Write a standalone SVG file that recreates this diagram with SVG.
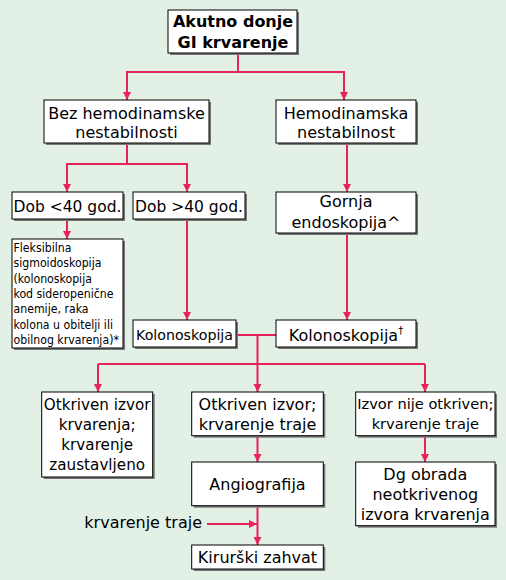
<svg xmlns="http://www.w3.org/2000/svg" width="506" height="580" viewBox="0 0 506 580">
<style>
.bg{fill:#e3f0e5}
.sh{fill:#777}
.bx{fill:#fff;stroke:#000;stroke-width:1}
text{font-family:"DejaVu Sans",Verdana,sans-serif;font-size:16px;fill:#000}
.c{text-anchor:middle}
.b{font-weight:bold}
text.s11{font-family:"DejaVu Sans Condensed","DejaVu Sans",sans-serif;font-size:12.2px}
text.s15{font-size:15.2px}
text.s145{font-size:14.6px}
.ln{fill:none;stroke:#e8235a;stroke-width:2}
</style>
<defs>
<marker id="ah" viewBox="0 0 10 10" refX="10" refY="5" markerWidth="8" markerHeight="9" markerUnits="userSpaceOnUse" orient="auto">
<path d="M0,0 L10,5 L0,10 z" fill="#e8235a"/>
</marker>
</defs>
<rect class="bg" x="0" y="0" width="506" height="580"/>
<g id="connectors">
<path class="ln" d="M238,53 V72 H127 V100" marker-end="url(#ah)"/>
<path class="ln" d="M238,72 H344 V100" marker-end="url(#ah)"/>
<path class="ln" d="M127,143 V164 H67 V192" marker-end="url(#ah)"/>
<path class="ln" d="M127,164 H187 V192" marker-end="url(#ah)"/>
<path class="ln" d="M347,143 V192" marker-end="url(#ah)"/>
<path class="ln" d="M67,219 V239" marker-end="url(#ah)"/>
<path class="ln" d="M187,219 V320" marker-end="url(#ah)"/>
<path class="ln" d="M347,233 V320" marker-end="url(#ah)"/>
<path class="ln" d="M236,335 H276 M257.5,335 V364 M98,364 H425"/>
<path class="ln" d="M98,364 V392" marker-end="url(#ah)"/>
<path class="ln" d="M257.5,364 V392" marker-end="url(#ah)"/>
<path class="ln" d="M425,364 V392" marker-end="url(#ah)"/>
<path class="ln" d="M257.5,436 V462" marker-end="url(#ah)"/>
<path class="ln" d="M425,436 V462" marker-end="url(#ah)"/>
<path class="ln" d="M257.5,506 V545" marker-end="url(#ah)"/>
<path class="ln" d="M207,524 H257" marker-end="url(#ah)"/>
</g>
<g id="n-top">
<rect class="sh" x="170" y="12" width="129" height="43"/><rect class="bx" x="168" y="10" width="129" height="43"/>
<text class="c b" x="233" y="26.5">Akutno donje</text>
<text class="c b" x="233" y="47.5">GI krvarenje</text>
</g>
<g id="n-bez">
<rect class="sh" x="46" y="102" width="165" height="43"/><rect class="bx" x="44" y="100" width="165" height="43"/>
<text class="c" x="126.5" y="119">Bez hemodinamske</text>
<text class="c" x="126.5" y="138">nestabilnosti</text>
</g>
<g id="n-hemo">
<rect class="sh" x="278" y="102" width="140" height="43"/><rect class="bx" x="276" y="100" width="140" height="43"/>
<text class="c" x="346" y="119">Hemodinamska</text>
<text class="c" x="346" y="138">nestabilnost</text>
</g>
<g id="n-dob40m">
<rect class="sh" x="14" y="194" width="111" height="27"/><rect class="bx" x="12" y="192" width="111" height="27"/>
<text class="c" x="67.5" y="211.5" style="font-size:15.5px">Dob &lt;40 god.</text>
</g>
<g id="n-dob40v">
<rect class="sh" x="135" y="194" width="112" height="27"/><rect class="bx" x="133" y="192" width="112" height="27"/>
<text class="c" x="189" y="211.5" style="font-size:15.5px">Dob &gt;40 god.</text>
</g>
<g id="n-gornja">
<rect class="sh" x="278" y="194" width="140" height="41"/><rect class="bx" x="276" y="192" width="140" height="41"/>
<text class="c" x="346" y="206.5">Gornja</text>
<text class="c" x="346" y="227.5">endoskopija^</text>
</g>
<g id="n-fleks">
<rect class="sh" x="14" y="241" width="111" height="109"/><rect class="bx" x="12" y="239" width="111" height="109"/>
<text class="s11" x="13.5" y="252">Fleksibilna</text>
<text class="s11" x="13.5" y="267.3">sigmoidoskopija</text>
<text class="s11" x="13.5" y="282.6">(kolonoskopija</text>
<text class="s11" x="13.5" y="297.9">kod sideropenične</text>
<text class="s11" x="13.5" y="313.2">anemije, raka</text>
<text class="s11" x="13.5" y="328.5">kolona u obitelji ili</text>
<text class="s11" x="13.5" y="343.8">obilnog krvarenja)*</text>
</g>
<g id="n-kolo1">
<rect class="sh" x="135" y="322" width="103" height="27"/><rect class="bx" x="133" y="320" width="103" height="27"/>
<text class="c" x="184.5" y="340" style="font-size:14.2px">Kolonoskopija</text>
</g>
<g id="n-kolo2">
<rect class="sh" x="278" y="322" width="140" height="27"/><rect class="bx" x="276" y="320" width="140" height="27"/>
<text class="c" x="346" y="340.5">Kolonoskopija<tspan style="font-size:10px" dy="-7">†</tspan></text>
</g>
<g id="n-otk1">
<rect class="sh" x="43.7" y="394" width="111" height="85"/><rect class="bx" x="41.7" y="392" width="111" height="85"/>
<text class="c s15" x="97.2" y="409.5">Otkriven izvor</text>
<text class="c s15" x="97.2" y="430">krvarenja;</text>
<text class="c s15" x="97.2" y="450">krvarenje</text>
<text class="c s15" x="97.2" y="470">zaustavljeno</text>
</g>
<g id="n-otk2">
<rect class="sh" x="193.7" y="394" width="131.6" height="43.7"/><rect class="bx" x="191.7" y="392" width="131.6" height="43.7"/>
<text class="c" x="257.5" y="409.5">Otkriven izvor;</text>
<text class="c" x="257.5" y="429.5">krvarenje traje</text>
</g>
<g id="n-izvor">
<rect class="sh" x="357.7" y="394" width="139.3" height="43.7"/><rect class="bx" x="355.7" y="392" width="139.3" height="43.7"/>
<text class="c s145" x="425.3" y="409">Izvor nije otkriven;</text>
<text class="c s145" x="425.3" y="429">krvarenje traje</text>
</g>
<g id="n-angio">
<rect class="sh" x="193.7" y="464" width="131.6" height="43.7"/><rect class="bx" x="191.7" y="462" width="131.6" height="43.7"/>
<text class="c" x="257.5" y="489.5">Angiografija</text>
</g>
<g id="n-dg">
<rect class="sh" x="357.7" y="464" width="139.3" height="63.7"/><rect class="bx" x="355.7" y="462" width="139.3" height="63.7"/>
<text class="c" x="425.3" y="479.5">Dg obrada</text>
<text class="c" x="425.3" y="500">neotkrivenog</text>
<text class="c" x="425.3" y="520">izvora krvarenja</text>
</g>
<g id="lbl-traje">
<text x="202" y="528" style="text-anchor:end">krvarenje traje</text>
</g>
<g id="n-kir">
<rect class="sh" x="193.7" y="547" width="131.6" height="24"/><rect class="bx" x="191.7" y="545" width="131.6" height="24"/>
<text class="c" x="257.5" y="562.5">Kirurški zahvat</text>
</g>
</svg>
